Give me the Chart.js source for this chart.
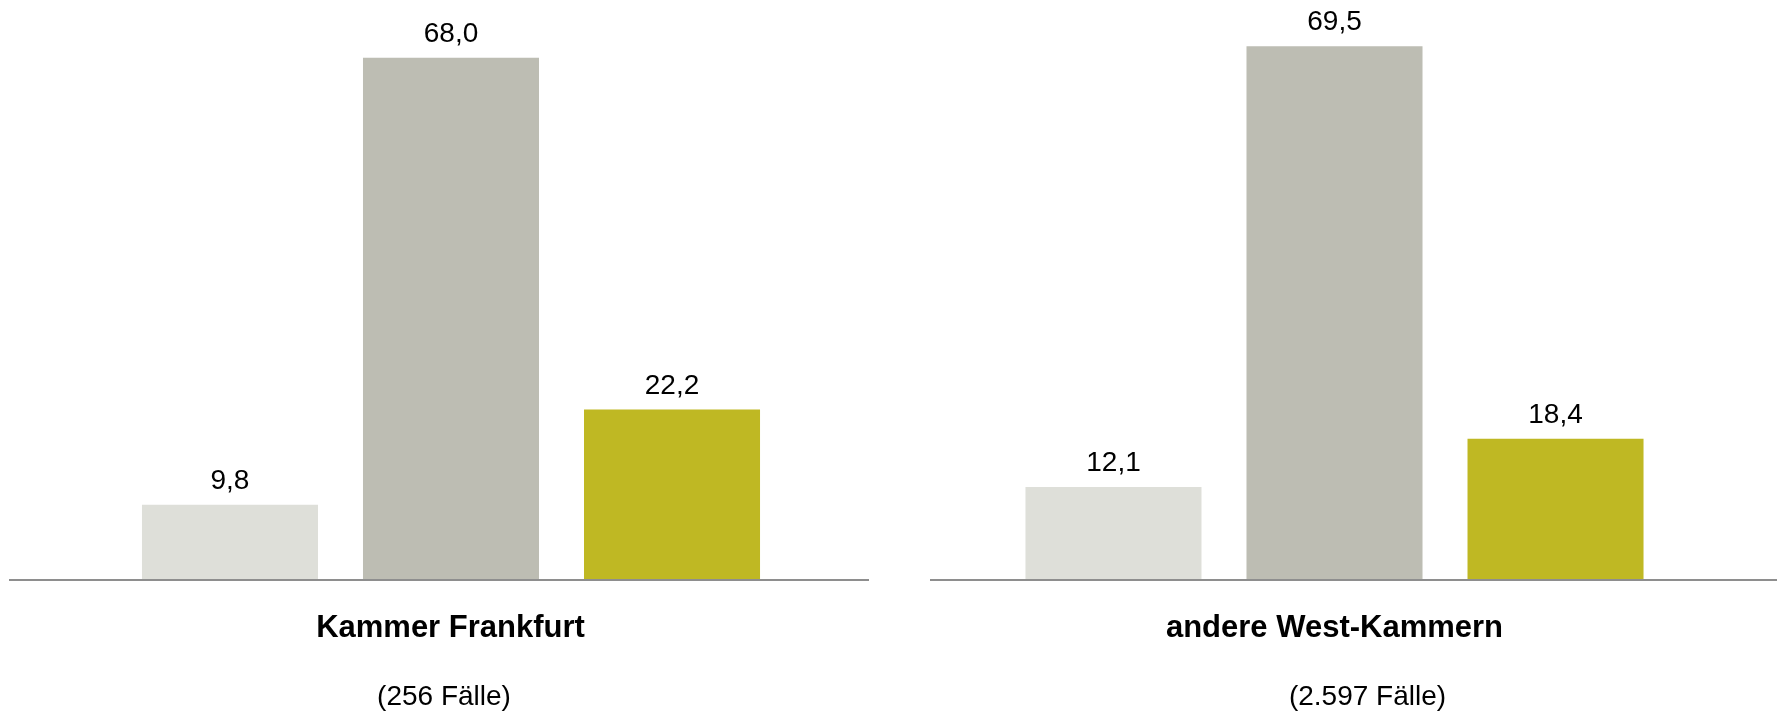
<!DOCTYPE html>
<html lang="de">
<head>
<meta charset="utf-8">
<title>Kammer Frankfurt vs. andere West-Kammern</title>
<script src="https://cdn.jsdelivr.net/npm/chart.js@4/dist/chart.umd.min.js"></script>
<style>
    html, body {
        margin: 0;
        padding: 0;
        background: #ffffff;
        font-family: "Liberation Sans", Arial, sans-serif;
    }
    #stage {
        position: relative;
        width: 1781px;
        height: 716px;
        overflow: hidden;
    }
    .panel {
        position: absolute;
        top: 0;
        height: 716px;
    }
    .cat-label, .case-label {
        position: absolute;
        width: 500px;
        text-align: center;
        color: #000;
        line-height: 1;
        white-space: nowrap;
    }
    .cat-label {
        font-size: 31px;
        font-weight: bold;
        top: 611px;
    }
    .case-label {
        font-size: 28px;
        top: 682px;
    }
</style>
</head>
<body>
<div id="stage">
    <div class="panel" id="panel-0" style="left:0; width:890px;"><canvas id="chart-0"></canvas></div>
    <div class="panel" id="panel-1" style="left:890px; width:891px;"><canvas id="chart-1"></canvas></div>
</div>

<script>
// Chart data (values in percent)
const categories = ["Kammer Frankfurt", "andere West-Kammern"];
const caseCounts = ["(256 Fälle)", "(2.597 Fälle)"];
const seriesLight = [9.8, 12.1];
const seriesGrey = [68.0, 69.5];
const seriesOlive = [22.2, 18.4];

const seriesColors = ["#DEDFD9", "#BDBDB3", "#BFB823"];
const FONT_FAMILY = "'Liberation Sans', Arial, sans-serif";

// Per panel layout: chart area padding, baseline extent (canvas px), label centres (page px)
const panelLayout = [
    { padLeft: 21, padRight: 9, lineFrom: 9, lineTo: 869, catCenter: 450.5, caseCenter: 444 },
    { padLeft: 14.5, padRight: 16.5, lineFrom: 40, lineTo: 887, catCenter: 1334.5, caseCenter: 1367.5 }
];

// Grey baseline drawn under the bars (wider than the chart area, not centred on it)
const baselinePlugin = {
    id: "baseline",
    afterDatasetsDraw(chart, args, opts) {
        const ctx = chart.ctx;
        const y = chart.scales.y.getPixelForValue(0);
        ctx.save();
        ctx.strokeStyle = "#8E8E8E";
        ctx.lineWidth = 2;
        ctx.beginPath();
        ctx.moveTo(opts.from, y);
        ctx.lineTo(opts.to, y);
        ctx.stroke();
        ctx.restore();
    }
};

// Value labels above each bar, German decimal comma
const valueLabelPlugin = {
    id: "valueLabels",
    afterDatasetsDraw(chart) {
        const ctx = chart.ctx;
        ctx.save();
        ctx.font = "28px " + FONT_FAMILY;
        ctx.fillStyle = "#000";
        ctx.textAlign = "center";
        ctx.textBaseline = "alphabetic";
        chart.data.datasets.forEach((ds, i) => {
            const meta = chart.getDatasetMeta(i);
            meta.data.forEach((bar, j) => {
                const text = ds.data[j].toFixed(1).replace(".", ",");
                ctx.fillText(text, bar.x, bar.y - 16);
            });
        });
        ctx.restore();
    }
};

function buildPanel(index) {
    const layout = panelLayout[index];
    const ctx = document.getElementById("chart-" + index);

    new Chart(ctx, {
        type: "bar",
        data: {
            labels: [categories[index]],
            datasets: [
                { label: "A", data: [seriesLight[index]], backgroundColor: seriesColors[0] },
                { label: "B", data: [seriesGrey[index]], backgroundColor: seriesColors[1] },
                { label: "C", data: [seriesOlive[index]], backgroundColor: seriesColors[2] }
            ]
        },
        options: {
            responsive: true,
            maintainAspectRatio: false,
            animation: false,
            categoryPercentage: 0.771,
            barPercentage: 0.7964,
            layout: {
                padding: { top: 4, bottom: 136, left: layout.padLeft, right: layout.padRight }
            },
            plugins: {
                legend: { display: false },
                tooltip: { enabled: false },
                baseline: { from: layout.lineFrom, to: layout.lineTo }
            },
            scales: {
                x: { display: false },
                y: { display: false, min: 0, max: 75 }
            }
        },
        plugins: [baselinePlugin, valueLabelPlugin]
    });

    // Category name and case count as page text
    const stage = document.getElementById("stage");
    const cat = document.createElement("div");
    cat.className = "cat-label";
    cat.style.left = (layout.catCenter - 250) + "px";
    cat.textContent = categories[index];
    stage.appendChild(cat);

    const cases = document.createElement("div");
    cases.className = "case-label";
    cases.style.left = (layout.caseCenter - 250) + "px";
    cases.textContent = caseCounts[index];
    stage.appendChild(cases);
}

Chart.defaults.font.family = FONT_FAMILY;
buildPanel(0);
buildPanel(1);
</script>
</body>
</html>
